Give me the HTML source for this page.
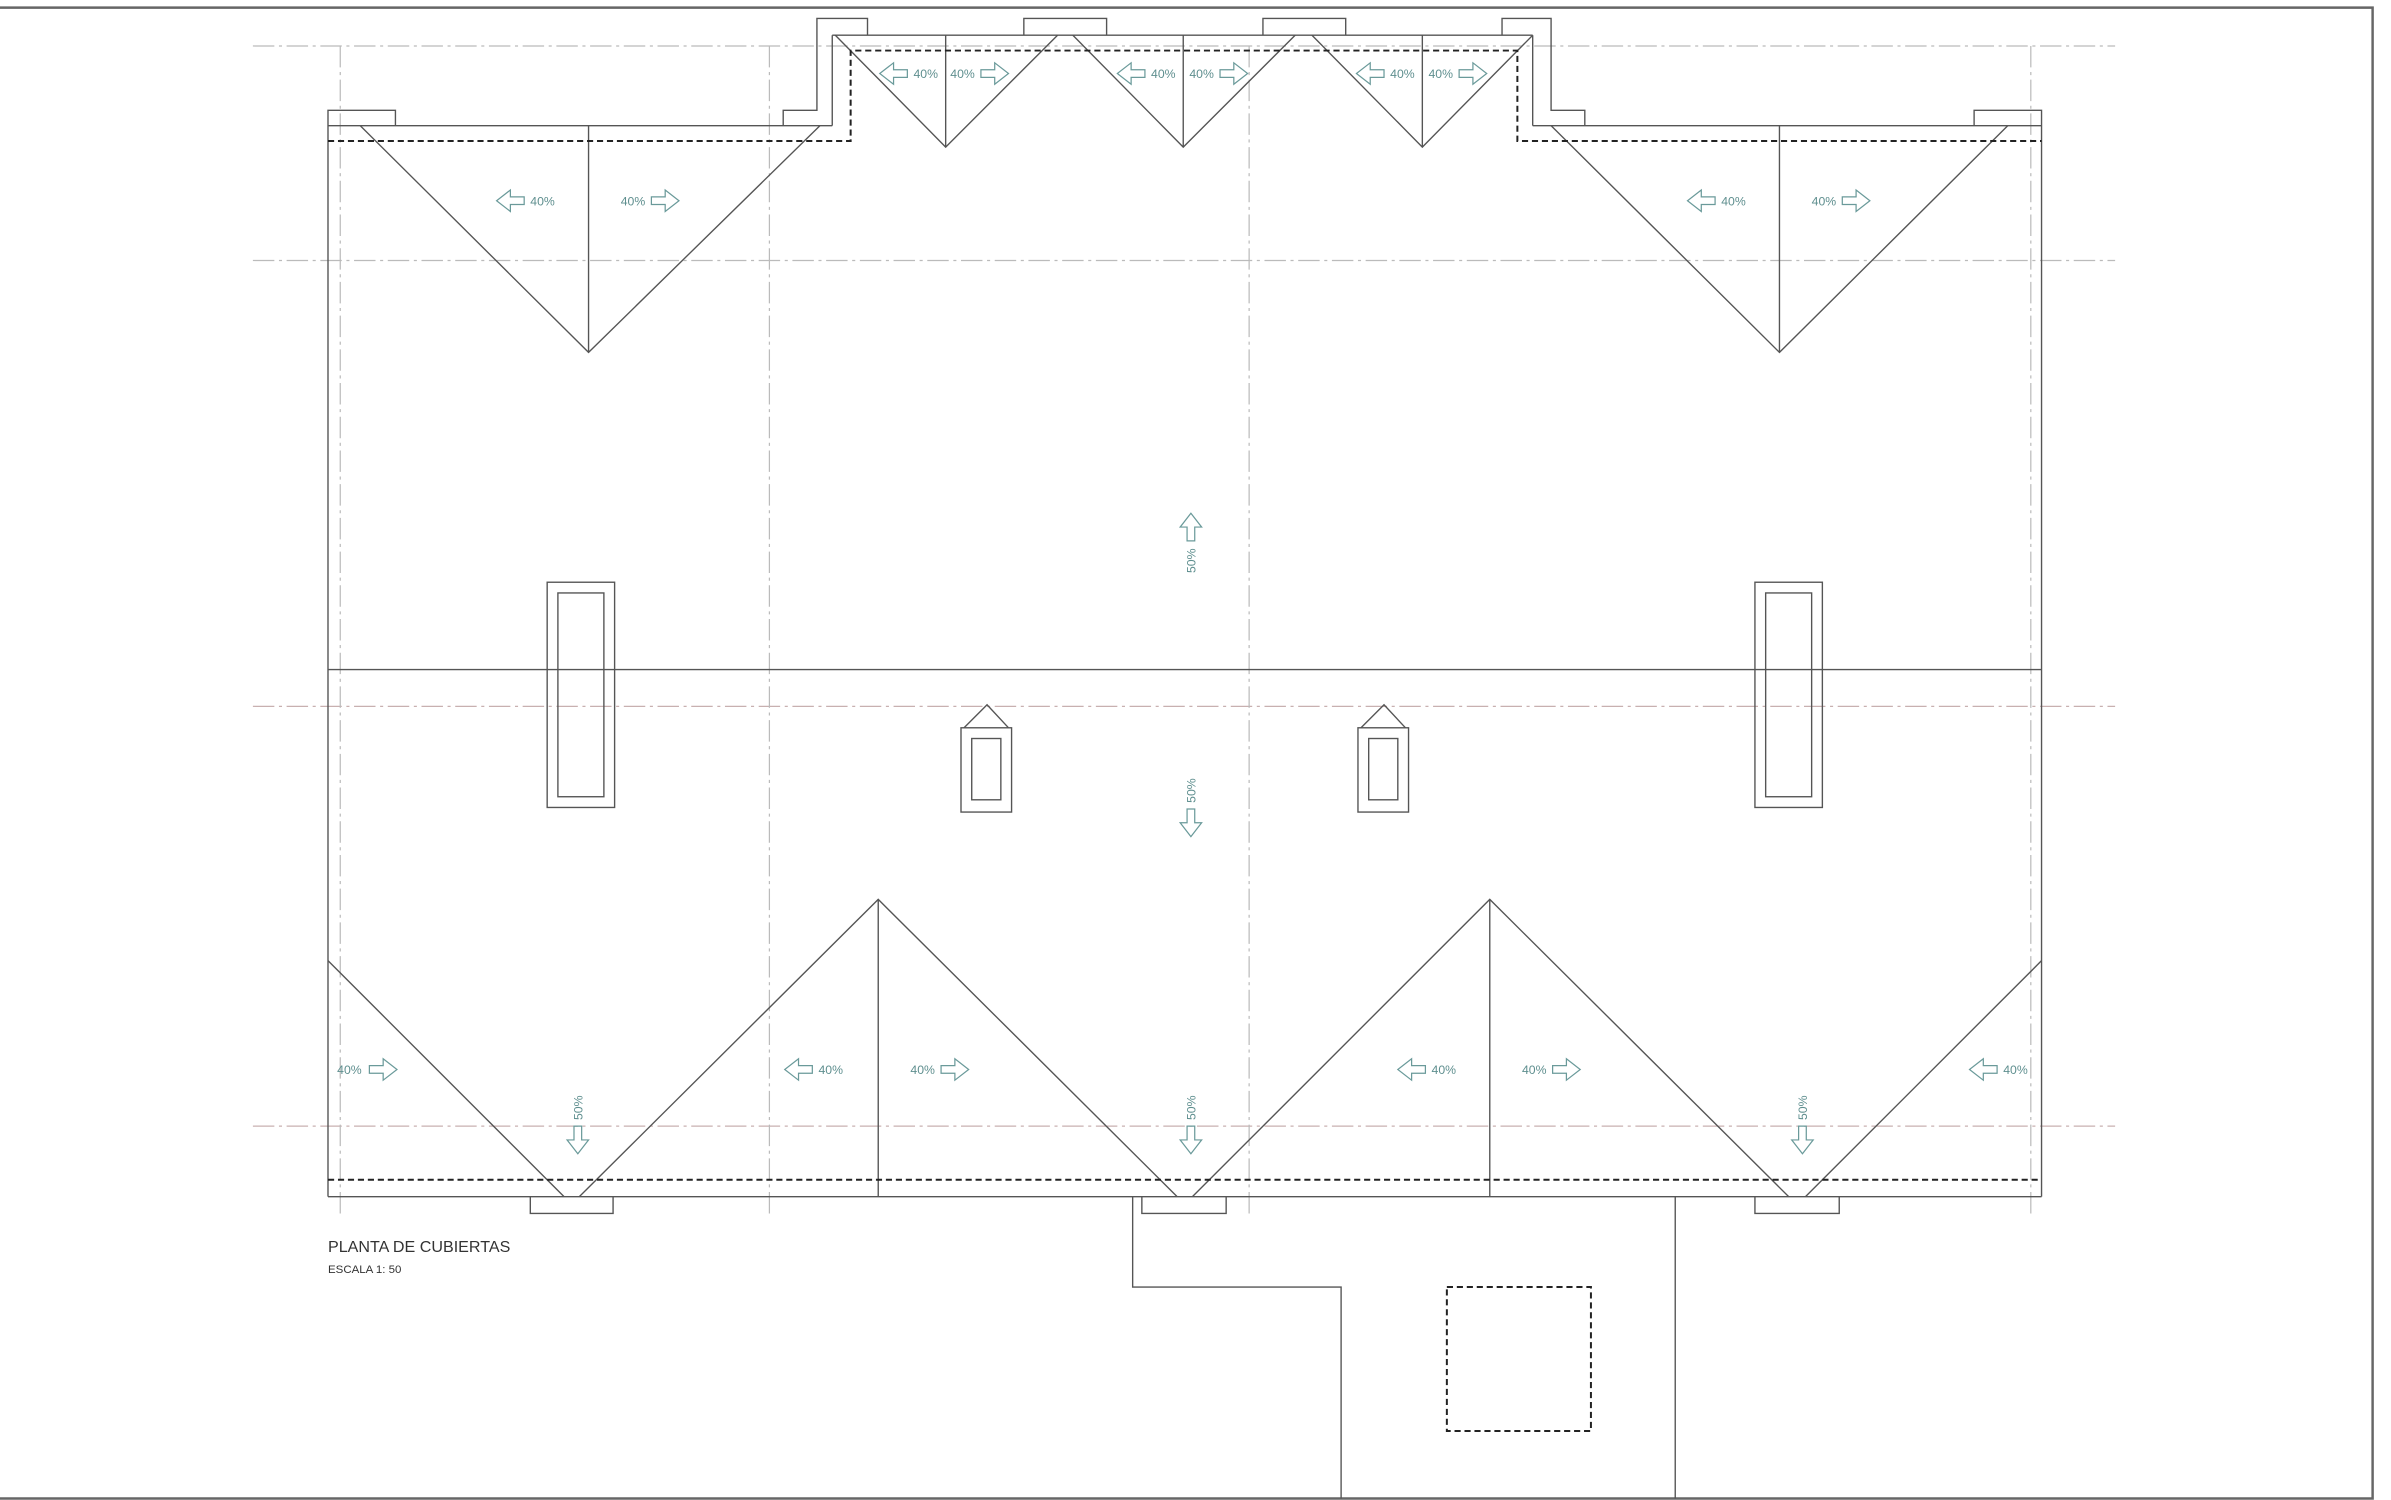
<!DOCTYPE html>
<html><head><meta charset="utf-8"><style>
html,body{margin:0;padding:0;background:#fff;}
svg{display:block;}
text{font-family:"Liberation Sans",sans-serif;}
</style></head><body>
<svg width="2391" height="1500" viewBox="0 0 1560 979" preserveAspectRatio="none" xmlns="http://www.w3.org/2000/svg">
<defs>
<path id="ar" d="M-9,-2.5 L0,-2.5 L0,-7 L9,0 L0,7 L0,2.5 L-9,2.5 Z" fill="none" stroke="#6a9a9a" stroke-width="0.8"/>
</defs>
<rect width="1560" height="979" fill="#fff"/>
<path d="M0,5 L1548,5 L1548,978 L0,978" fill="none" stroke="#666" stroke-width="1.6"/>
<g stroke="#bbb" stroke-width="0.8" stroke-dasharray="14,3,2,3" fill="none">
<line x1="165" y1="30" x2="1380" y2="30"/>
<line x1="165" y1="170" x2="1380" y2="170"/>
<line x1="165" y1="461" x2="1380" y2="461" stroke="#c8b0b0"/>
<line x1="165" y1="735" x2="1380" y2="735" stroke="#c8b0b0"/>
<line x1="222" y1="30" x2="222" y2="792"/>
<line x1="502" y1="30" x2="502" y2="792"/>
<line x1="815" y1="30" x2="815" y2="792"/>
<line x1="1325" y1="30" x2="1325" y2="792"/>
</g>
<g stroke="#555" stroke-width="0.9" fill="none">
<path d="M214,781 L214,72 L258,72 L258,82"/>
<line x1="214" y1="82" x2="543" y2="82"/>
<path d="M511,82 L511,72 L533,72 L533,12 L566,12 L566,23"/>
<line x1="543" y1="23" x2="543" y2="82"/>
<line x1="543" y1="23" x2="1000" y2="23"/>
<path d="M668,23 L668,12 L722,12 L722,23"/>
<path d="M824,23 L824,12 L878,12 L878,23"/>
<path d="M980,23 L980,12 L1012,12 L1012,72 L1034,72 L1034,82"/>
<line x1="1000" y1="23" x2="1000" y2="82"/>
<line x1="1000" y1="82" x2="1332" y2="82"/>
<path d="M1288,82 L1288,72 L1332,72 L1332,781"/>
<line x1="214" y1="781" x2="1332" y2="781"/>
<path d="M235,82 L384,230 L535,82"/><line x1="384" y1="82" x2="384" y2="230"/>
<path d="M1012,82 L1161,230 L1310,82"/><line x1="1161" y1="82" x2="1161" y2="230"/>
<path d="M545,23 L617,96 L690,23"/><line x1="617" y1="23" x2="617" y2="96"/>
<path d="M700,23 L772,96 L845,23"/><line x1="772" y1="23" x2="772" y2="96"/>
<path d="M856,23 L928,96 L1000,23"/><line x1="928" y1="23" x2="928" y2="96"/>
<line x1="214" y1="437" x2="1332" y2="437"/>
<rect x="357" y="380" width="44" height="147"/><rect x="364" y="387" width="30" height="133"/>
<rect x="1145" y="380" width="44" height="147"/><rect x="1152" y="387" width="30" height="133"/>
<rect x="627" y="475" width="33" height="55"/><rect x="634" y="482" width="19" height="40"/>
<path d="M629,475 L644,460 L658,475"/>
<rect x="886" y="475" width="33" height="55"/><rect x="893" y="482" width="19" height="40"/>
<path d="M888,475 L903,460 L917,475"/>
<line x1="214" y1="627" x2="368" y2="781"/>
<path d="M378,781 L573,587 L768,781"/><line x1="573" y1="587" x2="573" y2="781"/>
<path d="M778,781 L972,587 L1167,781"/><line x1="972" y1="587" x2="972" y2="781"/>
<line x1="1178" y1="781" x2="1332" y2="627"/>
<path d="M346,781 L346,792 L400,792 L400,781"/>
<path d="M745,781 L745,792 L800,792 L800,781"/>
<path d="M1145,781 L1145,792 L1200,792 L1200,781"/>
<path d="M739,781 L739,840 L875,840 L875,978"/>
<line x1="1093" y1="781" x2="1093" y2="978"/>
</g>
<g stroke="#222" stroke-width="1.3" stroke-dasharray="4,2.5" fill="none">
<path d="M214,92 L555,92 L555,33 L990,33 L990,92 L1332,92"/>
<line x1="214" y1="770" x2="1332" y2="770"/>
<rect x="944" y="840" width="94" height="94"/>
</g>
<g fill="#5f8f8f" font-size="8">
<use href="#ar" transform="translate(333,131) scale(-1,1)"/><text x="346" y="134">40%</text>
<text x="405" y="134">40%</text><use href="#ar" transform="translate(434,131)"/>
<use href="#ar" transform="translate(1110,131) scale(-1,1)"/><text x="1123" y="134">40%</text>
<text x="1182" y="134">40%</text><use href="#ar" transform="translate(1211,131)"/>
<use href="#ar" transform="translate(583,48) scale(-1,1)"/><text x="596" y="51">40%</text>
<text x="620" y="51">40%</text><use href="#ar" transform="translate(649,48)"/>
<use href="#ar" transform="translate(738,48) scale(-1,1)"/><text x="751" y="51">40%</text>
<text x="776" y="51">40%</text><use href="#ar" transform="translate(805,48)"/>
<use href="#ar" transform="translate(894,48) scale(-1,1)"/><text x="907" y="51">40%</text>
<text x="932" y="51">40%</text><use href="#ar" transform="translate(961,48)"/>
<text x="220" y="701">40%</text><use href="#ar" transform="translate(250,698)"/>
<use href="#ar" transform="translate(521,698) scale(-1,1)"/><text x="534" y="701">40%</text>
<text x="594" y="701">40%</text><use href="#ar" transform="translate(623,698)"/>
<use href="#ar" transform="translate(921,698) scale(-1,1)"/><text x="934" y="701">40%</text>
<text x="993" y="701">40%</text><use href="#ar" transform="translate(1022,698)"/>
<use href="#ar" transform="translate(1294,698) scale(-1,1)"/><text x="1307" y="701">40%</text>
<use href="#ar" transform="translate(777,344) rotate(-90)"/>
<text transform="translate(780,374) rotate(-90)">50%</text>
<text transform="translate(780,524) rotate(-90)">50%</text>
<use href="#ar" transform="translate(777,537) rotate(90)"/>
<text transform="translate(380,731) rotate(-90)">50%</text>
<use href="#ar" transform="translate(377,744) rotate(90)"/>
<text transform="translate(780,731) rotate(-90)">50%</text>
<use href="#ar" transform="translate(777,744) rotate(90)"/>
<text transform="translate(1179,731) rotate(-90)">50%</text>
<use href="#ar" transform="translate(1176,744) rotate(90)"/>
</g>
<text x="214" y="817" font-size="10.5" fill="#333">PLANTA DE CUBIERTAS</text>
<text x="214" y="831" font-size="7.5" fill="#333">ESCALA 1: 50</text>
</svg>
</body></html>
